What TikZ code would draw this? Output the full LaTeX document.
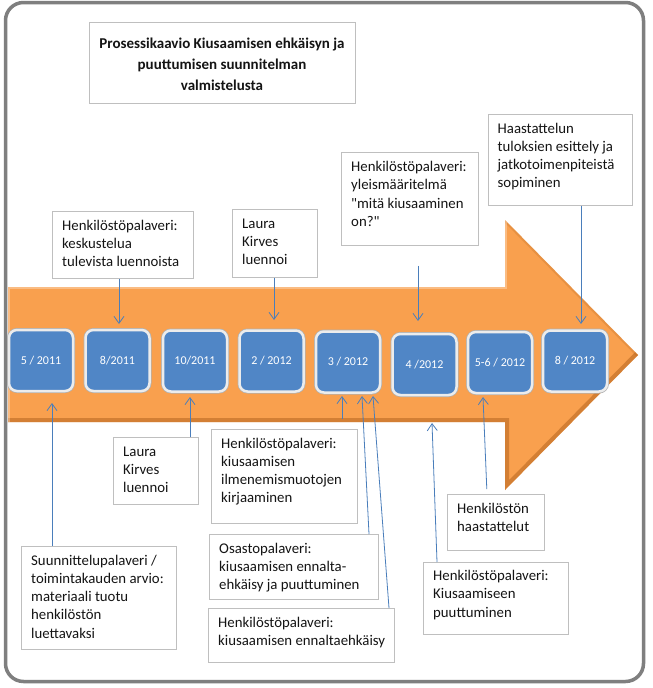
\documentclass[tikz,border=0pt]{standalone}
\usepackage{fontspec}
\setmainfont{Carlito}[Ligatures=TeXOff]
\usetikzlibrary{arrows.meta}
\definecolor{arrowor}{HTML}{F9A04E}
\definecolor{arrowedge}{HTML}{B5651F}
\definecolor{dateblue}{HTML}{5086C6}
\definecolor{linkblue}{HTML}{4A7EBB}
\definecolor{boxgray}{HTML}{BFBFBF}
\definecolor{framegray}{HTML}{7F7F7F}
\definecolor{txtcol}{HTML}{141414}
\begin{document}
\begin{tikzpicture}[x=1pt,y=-1pt,
  bx/.style={draw=boxgray,line width=0.8pt,fill=white,anchor=north west,inner sep=0pt},
  txt/.style={anchor=north west,inner sep=0pt,align=left,font=\fontsize{14.8}{18.2}\selectfont,text=txtcol},
  datebox/.style={rounded corners=8pt,fill=dateblue,draw=white!85!gray,line width=2.5pt,
    preaction={draw=gray!60,line width=4pt},
    minimum width=64pt,minimum height=61pt,inner sep=0pt,text=white,font=\fontsize{12}{14}\selectfont},
  link/.style={draw=linkblue,line width=0.8pt,-{Straight Barb[length=7pt,width=10pt]}}
]
\useasboundingbox (0,0) rectangle (653,688);
\fill[white] (0,0) rectangle (653,688);
% outer frame
\draw[framegray,line width=3.5pt,rounded corners=18pt] (5.5,2.5) rectangle (643.5,681.5);
% big arrow
\fill[arrowor] (8,287) -- (505,287) -- (505,220) -- (638,355) -- (505,490) -- (505,422) -- (8,422) -- cycle;
\begin{scope}
  \clip (8,287) -- (505,287) -- (505,220) -- (638,355) -- (505,490) -- (505,422) -- (8,422) -- cycle;
  \draw[arrowedge,line width=8pt,opacity=0.55] (638,355) -- (505,490) -- (505,422) -- (8,422);
  \draw[arrowedge,line width=4pt,opacity=0.25] (505,220) -- (638,355);
  \draw[white,line width=4pt,opacity=0.3] (8,422) -- (8,287) -- (505,287) -- (505,220);
\end{scope}
% title
\node[bx,minimum width=266pt,minimum height=81pt] (titlebox) at (89,22) {};
\node[font=\bfseries\fontsize{15}{21}\selectfont,align=center,text=txtcol] (title) at (222,64)
  {Prosessikaavio Kiusaamisen ehkäisyn ja\\puuttumisen suunnitelman\\valmistelusta};
% date boxes
\node[datebox] (d1) at (41,360.5) {5 / 2011};
\node[datebox] (d2) at (117.5,360.5) {8/2011};
\node[datebox] (d3) at (195,361) {10/2011};
\node[datebox] (d4) at (271.5,361) {2 / 2012};
\node[datebox] (d5) at (348,362) {3 / 2012};
\node[datebox] (d6) at (424.5,364.5) {4 /2012};
\node[datebox] (d7) at (500,362.5) {5-6 / 2012};
\node[datebox] (d8) at (575,361) {8 / 2012};
% upper text boxes
\node[bx,minimum width=141pt,minimum height=67pt] (kesk) at (52,211) {};
\node[txt] (keskt) at ([shift={(10,7)}]kesk.north west) {\rule{0pt}{12pt}Henkilöstöpalaveri:\\keskustelua\\tulevista luennoista};
\node[bx,minimum width=85pt,minimum height=68pt] (laura1) at (232,209) {};
\node[txt] (laura1t) at ([shift={(10,7)}]laura1.north west) {\rule{0pt}{12pt}Laura\\Kirves\\luennoi};
\node[bx,minimum width=137pt,minimum height=93pt] (yleis) at (341,152) {};
\node[txt] (yleist) at ([shift={(10,7.5)}]yleis.north west) {\rule{0pt}{12pt}Henkilöstöpalaveri:\\yleismääritelmä\\"mitä kiusaaminen\\on?"};
\node[bx,minimum width=144pt,minimum height=91pt] (haast) at (488,114) {};
\node[txt] (haastt) at ([shift={(9.5,7)}]haast.north west) {\rule{0pt}{12pt}Haastattelun\\tuloksien esittely ja\\jatkotoimenpiteistä\\sopiminen};
% lower text boxes
\node[bx,minimum width=85pt,minimum height=67pt] (laura2) at (113,437) {};
\node[txt] (laura2t) at ([shift={(10,7)}]laura2.north west) {\rule{0pt}{12pt}Laura\\Kirves\\luennoi};
\node[bx,minimum width=146pt,minimum height=94pt] (kirj) at (211,429) {};
\node[txt] (kirjt) at ([shift={(10,7)}]kirj.north west) {\rule{0pt}{12pt}Henkilöstöpalaveri:\\kiusaamisen\\ilmenemismuotojen\\kirjaaminen};
\node[bx,minimum width=155pt,minimum height=103pt] (suun) at (21,546) {};
\node[txt] (suunt) at ([shift={(10,7)}]suun.north west) {\rule{0pt}{12pt}Suunnittelupalaveri /\\toimintakauden arvio:\\materiaali tuotu\\henkilöstön\\luettavaksi};
\node[bx,minimum width=169pt,minimum height=65pt] (osasto) at (209,534) {};
\node[txt] (osastot) at ([shift={(10,7)}]osasto.north west) {\rule{0pt}{12pt}Osastopalaveri:\\kiusaamisen ennalta-\\ehkäisy ja puuttuminen};
\node[bx,minimum width=186pt,minimum height=54pt] (ennal) at (208,608) {};
\node[txt] (ennalt) at ([shift={(10,7)}]ennal.north west) {\rule{0pt}{12pt}Henkilöstöpalaveri:\\kiusaamisen ennaltaehkäisy};
\node[bx,minimum width=97pt,minimum height=56pt] (hhaast) at (447,494) {};
\node[txt] (hhaastt) at ([shift={(10,7)}]hhaast.north west) {\rule{0pt}{12pt}Henkilöstön\\haastattelut};
\node[bx,minimum width=145pt,minimum height=72pt] (kius) at (423,562) {};
\node[txt] (kiust) at ([shift={(10,6.5)}]kius.north west) {\rule{0pt}{12pt}Henkilöstöpalaveri:\\Kiusaamiseen\\puuttuminen};
% connectors
\coordinate (t1) at (119,324);
\draw[link] (kesk.south -| t1) -- (t1);
\coordinate (t2) at (274,320);
\draw[link] (laura1.south -| t2) -- (t2);
\coordinate (t3) at (418,321);
\draw[link,shorten <=20pt] (yleis.south -| t3) -- (t3);
\coordinate (t4) at (581,324);
\draw[link] (haast.south -| t4) -- (t4);
\coordinate (t5) at (52,403);
\draw[link] (suun.north -| t5) -- (t5);
\coordinate (t6) at (190,397);
\draw[link] (laura2.north -| t6) -- (t6);
\coordinate (t7) at (342,396);
\draw[link,shorten <=10pt] (kirj.north -| t7) -- (t7);
\coordinate (t8) at (362,396);
\coordinate (s8) at (369,0);
\draw[link] (osasto.north -| s8) -- (t8);
\coordinate (t9) at (373,396);
\coordinate (s9) at (389,0);
\draw[link] (ennal.north -| s9) -- (t9);
\coordinate (t10) at (432,423);
\coordinate (s10) at (437,0);
\draw[link] (kius.north -| s10) -- (t10);
\coordinate (t11) at (483,397);
\coordinate (s11) at (487,0);
\draw[link,shorten <=5pt] (hhaast.north -| s11) -- (t11);
\end{tikzpicture}
\end{document}
